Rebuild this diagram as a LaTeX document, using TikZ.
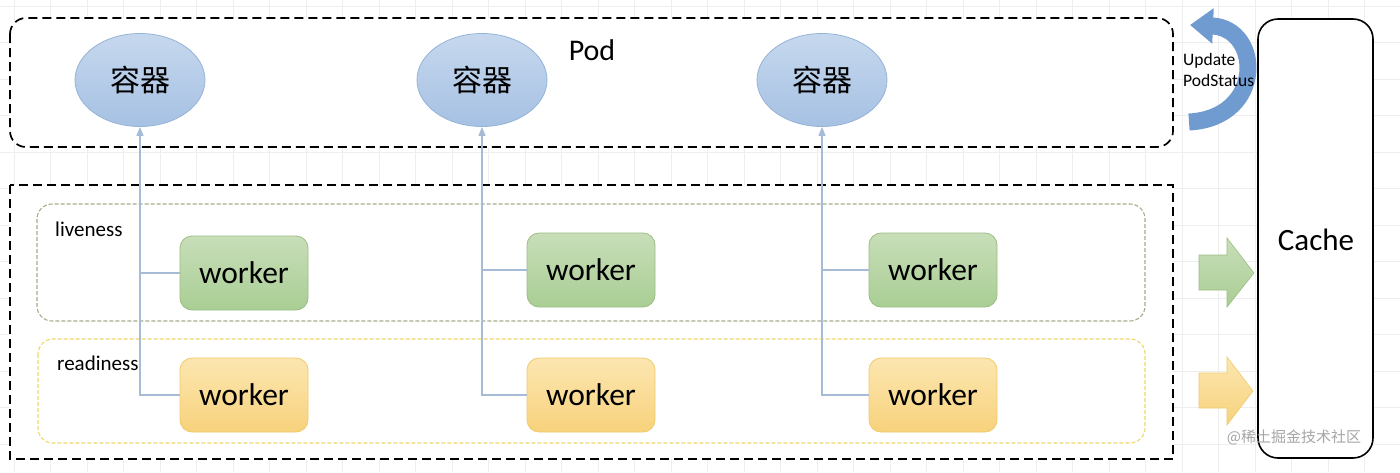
\documentclass[tikz,border=0pt]{standalone}
\usepackage{fontspec}
\setmainfont{Carlito}
\newfontfamily\cjk{Noto Sans CJK SC}
\usetikzlibrary{shapes.geometric,arrows.meta}
\definecolor{contborder}{HTML}{95B3D7}
\definecolor{conttop}{HTML}{C6D8EE}
\definecolor{contbot}{HTML}{A6C1E3}
\definecolor{gtop}{HTML}{C8DEB9}
\definecolor{gbot}{HTML}{A9CE94}
\definecolor{gborder}{HTML}{9CBD83}
\definecolor{ytop}{HTML}{FCE6B0}
\definecolor{ybot}{HTML}{F7D27C}
\definecolor{yborder}{HTML}{F1CB6A}
\definecolor{livedash}{HTML}{A3AD8A}
\definecolor{readdash}{HTML}{F0D868}
\definecolor{connc}{HTML}{A5BBD6}
\definecolor{curveblue}{HTML}{6F9BD0}
\definecolor{gridc}{HTML}{EEEEEE}
\tikzset{
  container/.style={ellipse, draw=contborder, line width=0.8pt, top color=conttop, bottom color=contbot,
    minimum width=130pt, minimum height=93pt, inner sep=0pt, font=\cjk\fontsize{30}{33}\selectfont},
  wgreen/.style={rectangle, rounded corners=12pt, draw=gborder, line width=0.8pt, top color=gtop, bottom color=gbot,
    minimum width=128pt, minimum height=74pt, inner sep=0pt, font=\fontsize{31.5}{35}\selectfont},
  wyellow/.style={wgreen, draw=yborder, top color=ytop, bottom color=ybot},
  bigdash/.style={draw=black, line width=1.7pt, dash pattern=on 9pt off 5pt, fill=white},
  smalldash/.style={line width=1.1pt, dash pattern=on 4pt off 2pt, fill=white, rounded corners=15pt},
  conn/.style={draw=connc, line width=1.1pt, -{Triangle[length=9pt,width=7pt]}},
  branch/.style={draw=connc, line width=1.1pt},
  lbl/.style={inner sep=0pt, font=\fontsize{21}{25}\selectfont},
}
\begin{document}
\begin{tikzpicture}[x=1pt,y=-1pt]
\useasboundingbox (0,0) rectangle (1400,472);
\fill[white] (0,0) rectangle (1400,472);
% faint grid
\foreach \gx in {0,...,38} {\draw[gridc, line width=0.8pt] ({14+36.5*\gx},0) -- ({14+36.5*\gx},472);}
\foreach \gy in {0,...,12} {\draw[gridc, line width=0.8pt] (0,{6+36.5*\gy}) -- (1400,{6+36.5*\gy});}

% Pod box
\path[bigdash, rounded corners=16pt] (10,18) rectangle (1173,147);
\node[inner sep=0pt, font=\fontsize{30}{34}\selectfont] (pod) at (592,50) {Pod};

% bottom outer box
\path[bigdash] (10,185) rectangle (1173,459);
\path[smalldash, draw=livedash] (37,204) rectangle (1145,321);
\path[smalldash, draw=readdash] (38,339) rectangle (1145,443);
\node[lbl, anchor=west] (live) at (55,229) {liveness};
\node[lbl, anchor=west] (ready) at (57,363) {readiness};

% containers
\node[container] (c1) at (140,80) {容器};
\node[container] (c2) at (482,80) {容器};
\node[container] (c3) at (822,80) {容器};

% workers
\node[wgreen] (g1) at (244,273) {worker};
\node[wgreen] (g2) at (591,270) {worker};
\node[wgreen] (g3) at (933,270) {worker};
\node[wyellow] (y1) at (244,395) {worker};
\node[wyellow] (y2) at (591,395) {worker};
\node[wyellow] (y3) at (933,395) {worker};

% connectors
\foreach \i in {1,2,3} {
  \draw[conn] (y\i.west) -| (c\i.south);
  \draw[branch] (g\i.west) -- (g\i.west -| c\i.south);
}

% Cache
\node[draw=black, line width=1.6pt, rounded corners=20pt, fill=white, minimum width=115pt, minimum height=439pt, inner sep=0pt] (cache) at (1315.5,238.5) {};
\node[inner sep=0pt, font=\fontsize{31}{35}\selectfont] (cachelbl) at (1316,240) {Cache};

% block arrows
\path[draw=gborder, line width=0.6pt, top color=gtop, bottom color=gbot]
  (1199,255) -- (1227,255) -- (1227,238) -- (1254,273) -- (1227,307) -- (1227,290) -- (1199,290) -- cycle;
\path[draw=yborder, line width=0.6pt, top color=ytop, bottom color=ybot]
  (1199,373) -- (1227,373) -- (1227,357) -- (1253,391) -- (1227,425) -- (1227,408) -- (1199,408) -- cycle;

% curved arrow
\draw[curveblue, line width=17pt, -{Triangle[length=23pt,width=34pt]}]
  (1189,122) .. controls (1265,118) and (1262,28) .. (1190,25);
\node[anchor=north west, inner sep=0pt, align=left, font=\fontsize{17.5}{21.5}\selectfont] (upd) at (1183,53) {Update\\PodStatus};

% watermark
\node[inner sep=0pt, text=black!35, font=\cjk\fontsize{15}{18}\selectfont] (wm) at (1294,437) {@稀土掘金技术社区};
\end{tikzpicture}
\end{document}
